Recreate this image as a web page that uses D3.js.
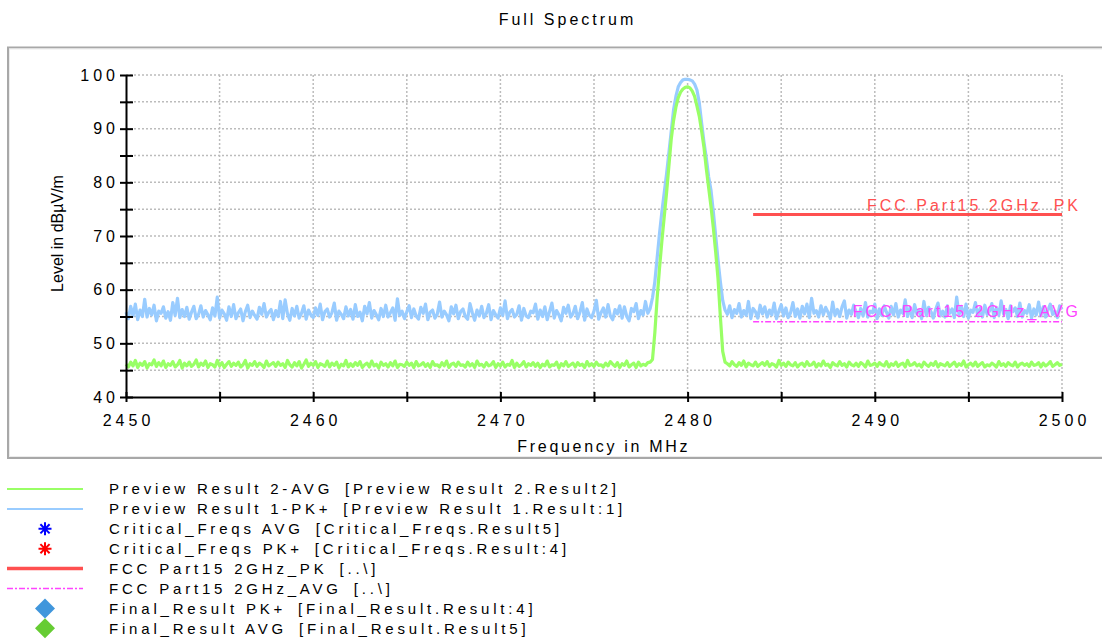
<!DOCTYPE html>
<html><head><meta charset="utf-8">
<script src="https://cdn.jsdelivr.net/npm/d3@7"></script>
<style>
body{margin:0;background:#fff}
svg{display:block;font-family:"Liberation Sans",Arial,sans-serif}
</style>
</head><body>
<svg id="c" width="1102" height="639"></svg>
<script>
// ---------------- DATA ----------------
const chartTitle = "Full Spectrum";
const xTitle = "Frequency in MHz";
const yTitle = "Level in dBµV/m";
const xDomain = [2450, 2500];
const yDomain = [40, 100];
const xTickValues = [2450,2455,2460,2465,2470,2475,2480,2485,2490,2495,2500];
const xTickLabels = [2450,2460,2470,2480,2490,2500];
const yTickValues = [40,45,50,55,60,65,70,75,80,85,90,95,100];
const yTickLabels = [40,50,60,70,80,90,100];

// sweep: 2450 MHz .. 2500 MHz, 0.125 MHz per point (401 points)
const freqStart = 2450, freqStep = 0.125;

// Preview Result 1-PK+ (dBµV/m)
const pkFloorLow = [
55.8,54.6,56.9,55.1,57.3,54.4,56.2,55.0,58.2,54.9,56.5,55.3,57.1,54.2,56.0,55.6,
56.8,54.7,55.9,54.3,57.6,55.2,58.4,54.8,56.3,55.0,56.7,54.5,55.8,56.9,54.6,55.4,
57.0,54.9,56.1,55.3,54.4,56.6,55.1,58.6,54.7,56.2,55.5,54.3,56.8,55.0,57.2,54.6,
55.7,56.4,54.2,55.9,57.1,54.8,56.0,55.2,54.5,56.7,55.4,57.4,54.9,55.8,56.3,54.4,
56.1,55.0,57.8,54.6,58.1,55.5,54.3,56.5,55.1,56.9,54.7,55.6,57.0,54.5,56.2,55.3,
54.8,56.6,55.2,57.3,54.4,55.9,56.4,54.9,55.7,57.5,54.3,56.0,55.4,54.6,56.8,55.1,
56.3,54.5,57.2,55.0,55.8,54.2,56.9,55.5,57.6,54.7,56.1,55.3,54.4,56.5,55.0,57.1,
54.9,55.7,56.6,54.3,58.3,55.2,56.0,54.6,55.9,57.0,54.8,56.4,55.1,54.5,56.7,55.6,
57.3,54.4,55.8,56.2,54.7,55.4,57.7,54.9,56.0,55.3,54.2,56.8,55.5,57.1,54.6,55.9,
56.4,55.0,54.5,57.4,55.7,54.3,56.2,55.1,56.9,54.8,55.6,57.2,54.4,56.1,55.3,54.7,
56.6,55.2,57.9,54.6,55.8,56.3,54.9,55.4,57.0,54.3,56.5,55.1,54.8,56.0,55.7,57.3,
54.5,56.2,55.0,56.8,54.4,55.9,57.5,54.7,56.1,55.3,54.2,56.7,55.6,57.1,54.9,55.5,
56.9,54.6,55.8,57.6,54.3,56.4,55.2,54.8,56.0,58.0,54.5,55.7,56.6,54.9,57.2,55.1,
54.4,56.3,55.5,57.0,54.7,56.8,55.0,54.2,56.5,55.9,57.4,54.6,56.1,55.3,57.8,55.6];
const pkSignal = [
56.5,58.5,61.5,66,70.5,74.5,78,81.5,85.5,89.5,93.5,96,97.8,98.6,99.1,99.2,99.2,
99.1,98.9,98.3,97.2,94.8,91,87.5,84.5,81,78.5,74.5,70,65.5,61.5,58,56.2];
const pkFloorHigh = [
55.4,57.0,54.8,56.3,55.6,57.4,54.9,56.1,55.2,57.8,54.6,56.5,55.9,54.7,57.1,55.5,
56.8,54.9,56.2,55.3,57.5,54.6,56.0,57.2,55.1,56.6,54.8,55.7,57.6,55.0,56.4,54.7,
56.9,55.5,57.3,54.8,58.4,55.6,56.1,54.9,57.0,55.3,56.7,55.8,54.6,57.7,55.2,56.3,
55.0,56.8,57.9,54.7,56.2,55.4,57.1,55.9,54.8,56.5,55.1,57.6,54.9,56.0,55.7,57.3,
54.6,56.4,55.2,57.0,55.8,54.7,56.9,55.3,57.4,54.9,56.2,55.6,58.1,55.0,56.6,54.8,
57.2,55.5,56.1,54.6,57.8,55.2,56.7,55.9,54.7,56.3,57.5,55.1,56.0,54.9,57.0,55.6,
56.4,54.8,58.6,55.3,56.9,55.0,57.3,54.7,56.2,55.8,57.6,55.1,56.5,54.9,57.1,55.4,
56.0,57.4,54.8,56.7,55.2,57.9,55.5,56.3,54.6,57.0,55.9,56.6,55.0,57.5,54.9,56.1,
55.6,57.2,54.7,56.4,55.3,57.7,55.1,56.8,54.9,56.2,57.3,55.4,56.0,54.8,57.0,56.3];

// Preview Result 2-AVG (dBµV/m)
const avgFloorLow = [
46.1,45.6,46.5,45.8,46.8,45.5,46.3,45.9,46.6,45.4,46.2,46.0,46.9,45.7,46.4,45.8,
46.7,45.5,46.2,45.9,46.6,45.6,46.0,46.8,45.4,46.3,45.8,46.5,45.7,46.1,46.9,45.6,
46.3,45.9,46.7,45.5,46.2,46.0,45.6,46.8,45.8,46.4,45.5,46.1,46.6,45.7,46.3,45.9,
46.5,45.6,46.0,46.8,45.4,46.2,45.9,46.6,45.7,46.3,46.0,45.5,46.7,45.8,46.1,46.4,
45.7,46.5,45.9,46.2,45.5,46.8,46.0,45.6,46.4,45.8,46.6,45.4,46.1,46.9,45.7,46.3,
45.9,46.6,45.5,46.2,46.0,45.7,46.7,45.6,46.3,45.9,46.5,45.4,46.1,45.8,46.8,45.6,
46.2,45.7,46.4,45.9,46.6,45.5,46.0,46.3,45.6,46.7,45.8,46.1,45.4,46.5,45.9,46.2,
45.6,46.4,45.8,46.7,45.5,46.1,46.0,45.7,46.5,45.9,46.3,45.5,46.6,45.8,46.0,46.4,
45.7,46.2,45.5,46.6,45.9,46.0,45.6,46.4,45.8,46.7,45.5,46.1,46.3,45.7,46.5,45.9,
46.0,45.6,46.5,45.8,46.2,45.5,46.7,45.9,46.1,45.6,46.4,45.8,46.0,46.6,45.5,46.2,
45.8,46.5,45.6,46.1,45.9,46.8,45.5,46.3,45.7,46.0,46.6,45.6,46.2,45.9,46.4,45.7,
46.3,45.5,46.1,45.8,46.7,45.6,46.0,45.9,46.5,45.4,46.2,45.8,46.6,45.7,46.0,46.3,
45.6,46.4,45.9,46.1,45.5,46.6,45.8,46.2,45.7,46.5,45.9,46.0,45.6,46.3,45.8,46.6,
46.1,45.7,46.4,45.5,46.2,45.9,46.7,45.6,46.0,46.3,45.5,46.5,45.8,46.1,45.9,46.4];
const avgSignal = [
46.5,47,52,58.5,64,69,73.5,78,83,88,91.5,94,95.8,96.8,97.4,97.7,97.8,
97.6,97,96,94.2,92.3,89.5,86.5,82.5,79,75.5,71.5,67,62,55,48.5,46.5];
const avgFloorHigh = [
46.2,45.8,46.6,46.0,45.7,46.4,45.9,46.7,45.6,46.3,46.0,45.8,46.5,45.7,46.1,46.4,
45.9,46.6,45.7,46.2,46.0,45.6,46.8,45.9,46.3,45.7,46.5,46.0,45.8,46.4,45.6,46.1,
46.3,45.7,46.6,45.9,46.0,46.5,45.6,46.2,45.8,46.7,45.9,46.1,45.5,46.4,46.0,45.8,
46.6,45.9,46.2,45.6,46.5,46.0,45.8,46.3,45.7,46.4,46.1,45.6,46.7,45.9,46.0,46.3,
45.7,46.4,46.0,45.8,46.6,45.6,46.2,45.9,46.5,45.7,46.1,46.3,45.6,46.8,45.9,46.0,
46.4,45.8,46.1,45.6,46.5,46.0,45.7,46.3,45.9,46.6,45.6,46.2,46.0,45.8,46.4,45.7,
46.1,46.5,45.7,46.2,45.9,46.7,45.6,46.0,46.3,45.8,46.5,45.7,46.1,46.4,45.6,46.0,
45.8,46.3,46.0,45.6,46.6,45.9,46.2,45.7,46.4,46.0,45.8,46.5,45.6,46.1,46.3,45.9,
46.2,45.7,46.5,45.9,46.0,46.4,45.6,46.3,45.8,46.1,46.6,45.7,46.0,46.4,45.9,46.1];

// Limit lines
const limitFreqs = [2483.5, 2500];
const pkLimit = 74;
const avgLimit = 54;
const pkLimitLabel = "FCC Part15 2GHz_PK";
const avgLimitLabel = "FCC Part15 2GHz_AVG";

// Legend
const legendNames = ["Preview Result 2-AVG","Preview Result 1-PK+","Critical_Freqs AVG","Critical_Freqs PK+",
  "FCC Part15 2GHz_PK","FCC Part15 2GHz_AVG","Final_Result PK+","Final_Result AVG"];
const legendSources = ["[Preview Result 2.Result2]","[Preview Result 1.Result:1]","[Critical_Freqs.Result5]",
  "[Critical_Freqs.Result:4]","[..\\]","[..\\]","[Final_Result.Result:4]","[Final_Result.Result5]"];

// ---------------- DRAW ----------------
const pkValues = [...pkFloorLow, ...pkSignal, ...pkFloorHigh];
const avgValues = [...avgFloorLow, ...avgSignal, ...avgFloorHigh];
const pkData = pkValues.map((v,i)=>({f: freqStart + i*freqStep, v}));
const avgData = avgValues.map((v,i)=>({f: freqStart + i*freqStep, v}));

const C = {pk:"#99ccff", avg:"#99ff66", red:"#ff5050", mag:"#ff44ff", grid:"#bcbcbc"};

const svg = d3.select("#c");
const x = d3.scaleLinear().domain(xDomain).range([126, 1062]);
const y = d3.scaleLinear().domain(yDomain).range([397, 75]);

// outer frame
svg.append("rect").attr("x",8).attr("y",47.5).attr("width",1110).attr("height",410.5)
  .attr("fill","none").attr("stroke","#a8a8a8").attr("stroke-width",2);
svg.append("rect").attr("x",9.5).attr("y",49).attr("width",1110).attr("height",407.5)
  .attr("fill","none").attr("stroke","#ececec").attr("stroke-width",1);

// title
svg.append("text").attr("x",567.5).attr("y",25).attr("text-anchor","middle")
  .style("font-size","16px").style("letter-spacing","3px").text(chartTitle);

// grid
const grid = svg.append("g").attr("stroke",C.grid).attr("stroke-width",1.5).attr("stroke-dasharray","2,2");
yTickValues.filter(v=>v!==yDomain[0]).forEach(v=>{
  grid.append("line").attr("x1",x(xDomain[0])).attr("x2",x(xDomain[1])).attr("y1",y(v)).attr("y2",y(v));
});
xTickValues.filter(v=>v!==xDomain[0]).forEach(v=>{
  grid.append("line").attr("y1",y(yDomain[0])).attr("y2",y(yDomain[1])).attr("x1",x(v)).attr("x2",x(v));
});

// traces
const line = d3.line().x(d=>x(d.f)).y(d=>y(d.v));
svg.append("path").datum(pkData).attr("d",line).attr("fill","none")
  .attr("stroke",C.pk).attr("stroke-width",3.2).attr("stroke-linejoin","round");
svg.append("path").datum(avgData).attr("d",line).attr("fill","none")
  .attr("stroke",C.avg).attr("stroke-width",3.2).attr("stroke-linejoin","round");

// limit lines
svg.append("line").attr("x1",x(limitFreqs[0])).attr("x2",x(limitFreqs[1]))
  .attr("y1",y(pkLimit)).attr("y2",y(pkLimit)).attr("stroke",C.red).attr("stroke-width",3);
svg.append("line").attr("x1",x(limitFreqs[0])).attr("x2",x(limitFreqs[1]))
  .attr("y1",y(avgLimit)).attr("y2",y(avgLimit)).attr("stroke",C.mag).attr("stroke-width",1.5)
  .attr("stroke-dasharray","6,2,2,2");
svg.append("text").attr("x",x(limitFreqs[1])+19).attr("y",y(pkLimit)-3.5).attr("text-anchor","end")
  .attr("fill",C.red).style("font-size","16px").style("letter-spacing","3px").text(pkLimitLabel);
svg.append("text").attr("x",x(limitFreqs[1])+19).attr("y",y(avgLimit)-5).attr("text-anchor","end")
  .attr("fill",C.mag).style("font-size","16px").style("letter-spacing","3px").text(avgLimitLabel);

// axes
const yAxis = d3.axisLeft(y).tickValues(yTickValues)
  .tickFormat(d=>yTickLabels.includes(d)?d:"").tickSizeInner(6).tickSizeOuter(0);
const gy = svg.append("g").attr("transform",`translate(${x(xDomain[0])},0)`).call(yAxis);
gy.selectAll(".tick line").attr("x1",7).attr("x2",-6).attr("stroke","#000").attr("stroke-width",2);
gy.select(".domain").attr("stroke","#000").attr("stroke-width",2);
gy.selectAll(".tick text").attr("x",-7).attr("fill","#000")
  .style("font-size","16px").style("letter-spacing","4px").style("font-family","'Liberation Sans',Arial,sans-serif");

const xAxis = d3.axisBottom(x).tickValues(xTickValues)
  .tickFormat(d=>xTickLabels.includes(d)?d:"").tickSizeInner(5).tickSizeOuter(0);
const gx = svg.append("g").attr("transform",`translate(0,${y(yDomain[0])})`).call(xAxis);
gx.selectAll(".tick line").attr("y1",-5).attr("y2",5).attr("stroke","#000").attr("stroke-width",2);
gx.select(".domain").attr("stroke","#000").attr("stroke-width",2);
gx.selectAll(".tick text").attr("y",29).attr("dy",0).attr("dx",2).attr("fill","#000")
  .style("font-size","16px").style("letter-spacing","4px").style("font-family","'Liberation Sans',Arial,sans-serif");

// axis titles
svg.append("text").attr("x",603.8).attr("y",452).attr("text-anchor","middle")
  .style("font-size","16px").style("letter-spacing","2.7px").text(xTitle);
svg.append("text").attr("transform","translate(63,233.5) rotate(-90)").attr("text-anchor","middle")
  .style("font-size","16px").text(yTitle);

// legend
const legendStyles = [
  {type:"line", color:C.avg, w:2},
  {type:"line", color:C.pk, w:2},
  {type:"star", color:"#0000ff"},
  {type:"star", color:"#ff0000"},
  {type:"line", color:C.red, w:3.5},
  {type:"line", color:C.mag, w:1.5, dash:"6,2,2,2"},
  {type:"diamond", color:"#4096dc"},
  {type:"diamond", color:"#66cc33"}
];
const lg = svg.append("g");
legendNames.forEach((name,i)=>{
  const cy = 489 + i*19.9;
  const st = legendStyles[i];
  if (st.type==="line") {
    const l = lg.append("line").attr("x1",7).attr("x2",83).attr("y1",cy).attr("y2",cy)
      .attr("stroke",st.color).attr("stroke-width",st.w);
    if (st.dash) l.attr("stroke-dasharray",st.dash);
  } else if (st.type==="star") {
    const r = 6.5, r2 = 4.6;
    lg.append("path").attr("d",`M45,${cy-r}V${cy+r}M${45-r},${cy}H${45+r}M${45-r2},${cy-r2}L${45+r2},${cy+r2}M${45-r2},${cy+r2}L${45+r2},${cy-r2}`)
      .attr("stroke",st.color).attr("stroke-width",2).attr("fill","none");
  } else {
    lg.append("path").attr("d",d3.symbol(d3.symbolSquare,200)())
      .attr("transform",`translate(45,${cy}) rotate(45)`).attr("fill",st.color);
  }
  const t = lg.append("text").attr("x",109).attr("y",cy+5.2)
    .style("font-size","15px").style("letter-spacing","3.8px").text(name);
  const w = t.node().getComputedTextLength();
  lg.append("text").attr("x",109 + w + 12).attr("y",cy+5.2)
    .style("font-size","15px").style("letter-spacing","3.8px").text(legendSources[i]);
});
</script>
</body></html>
